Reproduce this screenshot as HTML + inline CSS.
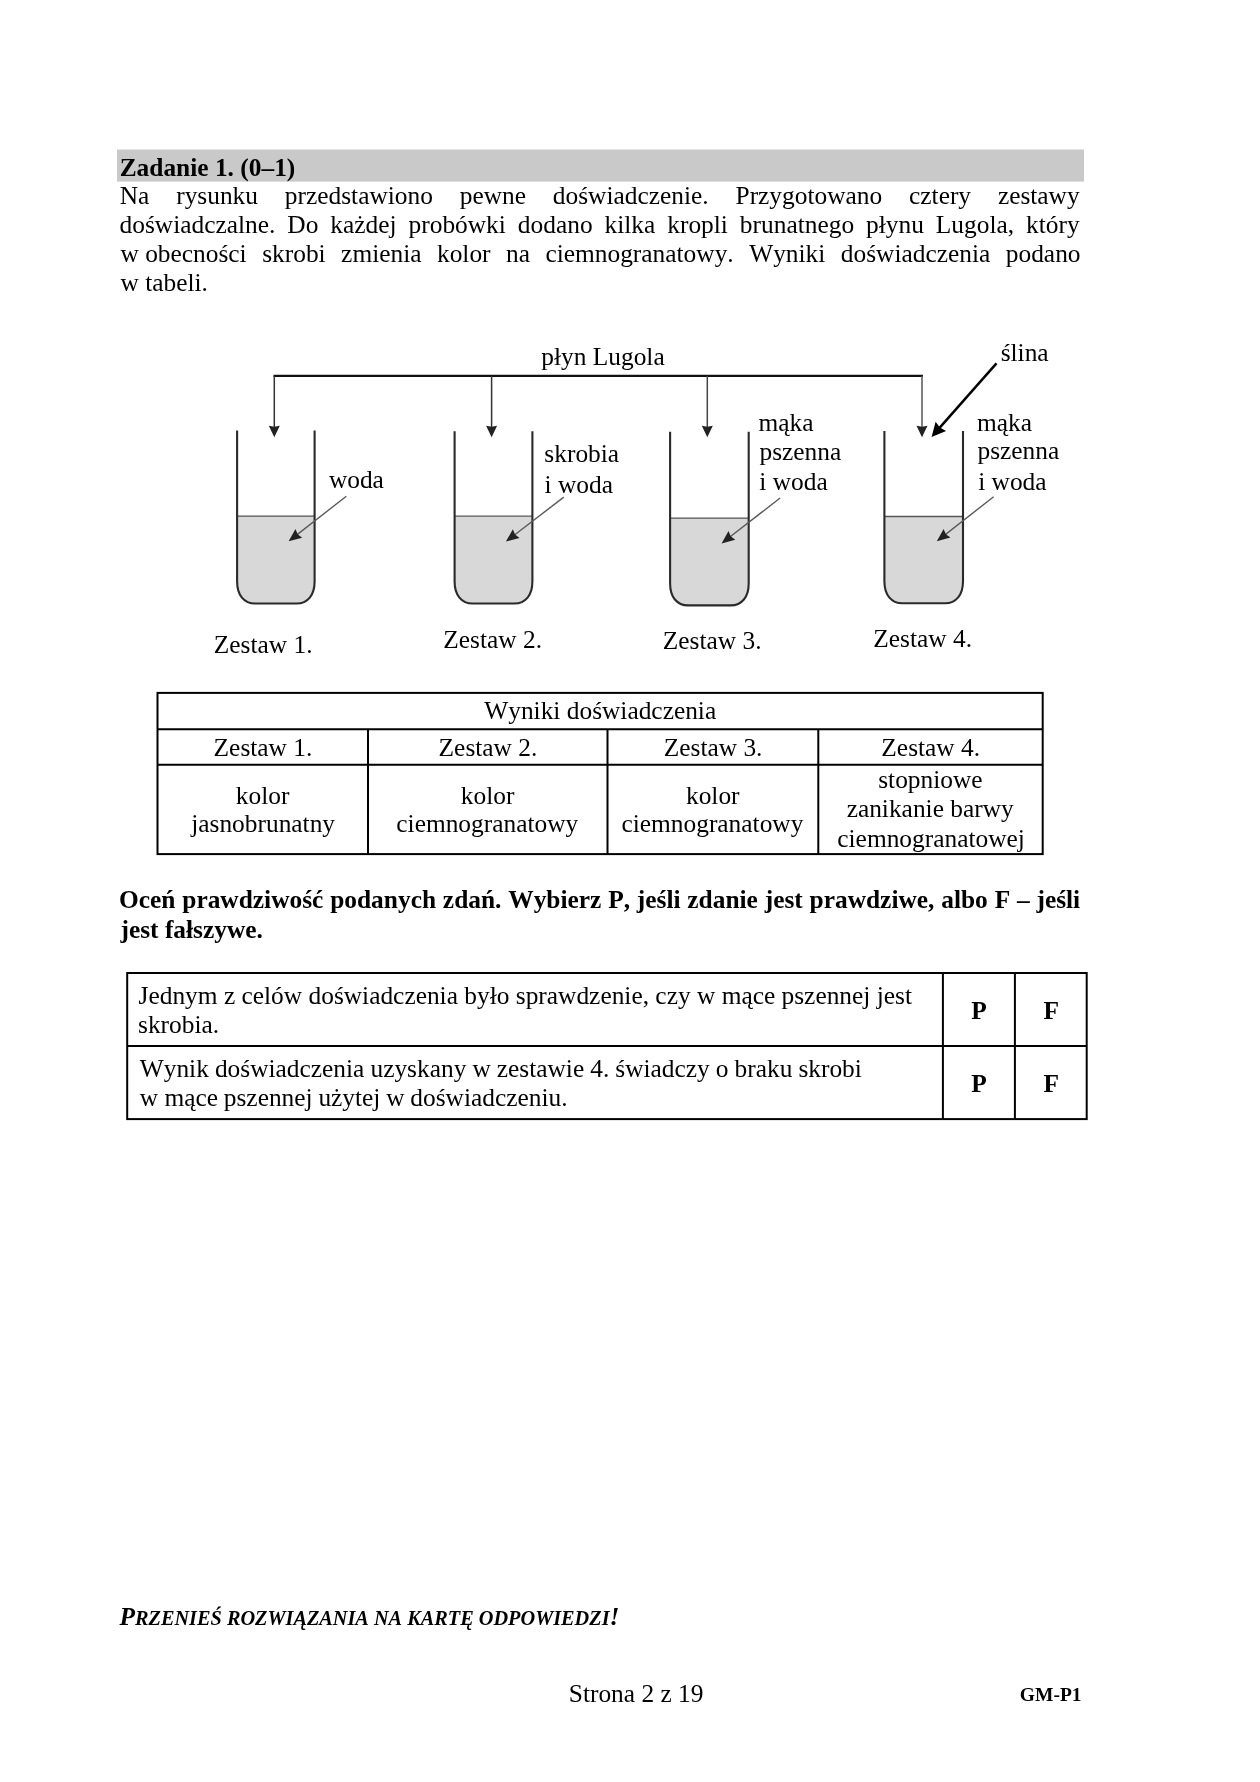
<!DOCTYPE html>
<html><head><meta charset="utf-8"><style>
html,body{margin:0;padding:0;background:#fff;width:1260px;height:1782px;overflow:hidden}
svg{display:block;will-change:transform}
text{font-family:"Liberation Serif",serif;font-kerning:none;font-variant-ligatures:none;white-space:pre;fill:#000}
</style></head><body>
<svg width="1260" height="1782" viewBox="0 0 1260 1782">
<rect x="117" y="149.5" width="967" height="32.1" fill="#c9c9c9"/>
<text x="119.68" y="176.00" font-size="25.4" font-weight="bold">Zadanie 1. (0–1)</text>
<text y="203.80" font-size="25.4" font-weight="normal"><tspan x="119.77">Na</tspan><tspan x="176.19">rysunku</tspan><tspan x="284.84">przedstawiono</tspan><tspan x="459.76">pewne</tspan><tspan x="552.85">doświadczenie.</tspan><tspan x="735.52">Przygotowano</tspan><tspan x="909.05">cztery</tspan><tspan x="997.89">zestawy</tspan></text>
<text y="233.30" font-size="25.4" font-weight="normal"><tspan x="119.58">doświadczalne.</tspan><tspan x="287.37">Do</tspan><tspan x="330.35">każdej</tspan><tspan x="408.56">probówki</tspan><tspan x="517.85">dodano</tspan><tspan x="604.55">kilka</tspan><tspan x="667.27">kropli</tspan><tspan x="739.87">brunatnego</tspan><tspan x="866.07">płynu</tspan><tspan x="935.86">Lugola,</tspan><tspan x="1026.08">który</tspan></text>
<text y="261.80" font-size="25.4" font-weight="normal"><tspan x="120.48">w obecności</tspan><tspan x="262.18">skrobi</tspan><tspan x="341.12">zmienia</tspan><tspan x="436.96">kolor</tspan><tspan x="506.02">na</tspan><tspan x="545.44">ciemnogranatowy.</tspan><tspan x="749.20">Wyniki</tspan><tspan x="840.84">doświadczenia</tspan><tspan x="1005.79">podano</tspan></text>
<text x="120.48" y="291.10" font-size="25.4" font-weight="normal">w tabeli.</text>
<path d="M273.5 375.8 H923" stroke="#111" stroke-width="2.2" fill="none"/>
<path d="M274.3 375.8 V430" stroke="#333" stroke-width="1.5" fill="none"/>
<path d="M274.30 437.20 L268.80 425.70 L274.30 426.70 L279.80 425.70 Z" fill="#222"/>
<path d="M491.6 375.8 V430" stroke="#333" stroke-width="1.5" fill="none"/>
<path d="M491.60 437.20 L486.10 425.70 L491.60 426.70 L497.10 425.70 Z" fill="#222"/>
<path d="M707.3 375.8 V430" stroke="#444" stroke-width="1.5" fill="none"/>
<path d="M707.30 437.20 L701.80 425.70 L707.30 426.70 L712.80 425.70 Z" fill="#222"/>
<path d="M922 375.8 V430" stroke="#555" stroke-width="1.5" fill="none"/>
<path d="M922.00 437.20 L916.50 425.70 L922.00 426.70 L927.50 425.70 Z" fill="#222"/>
<path d="M237.1 516.1 V581.5 C237.1 595.14 243.94 603.5 255.1 603.5 H296.6 C307.76 603.5 314.6 595.14 314.6 581.5 V516.1 Z" fill="#d8d8d8"/>
<path d="M237.1 516.1 H314.6" stroke="#555" stroke-width="1.3" fill="none"/>
<path d="M237.1 430.4 V581.5 C237.1 595.14 243.94 603.5 255.1 603.5 H296.6 C307.76 603.5 314.6 595.14 314.6 581.5 V430.4" stroke="#2a2a2a" stroke-width="2.1" fill="none"/>
<path d="M454.6 516.2 V581.5 C454.6 595.14 461.44 603.5 472.6 603.5 H514.4 C525.56 603.5 532.4 595.14 532.4 581.5 V516.2 Z" fill="#d8d8d8"/>
<path d="M454.6 516.2 H532.4" stroke="#555" stroke-width="1.3" fill="none"/>
<path d="M454.6 431.3 V581.5 C454.6 595.14 461.44 603.5 472.6 603.5 H514.4 C525.56 603.5 532.4 595.14 532.4 581.5 V431.3" stroke="#2a2a2a" stroke-width="2.1" fill="none"/>
<path d="M670.1 518.1 V583.4 C670.1 597.04 676.94 605.4 688.1 605.4 H730.7 C741.86 605.4 748.7 597.04 748.7 583.4 V518.1 Z" fill="#d8d8d8"/>
<path d="M670.1 518.1 H748.7" stroke="#555" stroke-width="1.3" fill="none"/>
<path d="M670.1 431.7 V583.4 C670.1 597.04 676.94 605.4 688.1 605.4 H730.7 C741.86 605.4 748.7 597.04 748.7 583.4 V431.7" stroke="#2a2a2a" stroke-width="2.1" fill="none"/>
<path d="M884.4 516.5 V581.3 C884.4 594.94 891.24 603.3 902.4 603.3 H945 C956.16 603.3 963 594.94 963 581.3 V516.5 Z" fill="#d8d8d8"/>
<path d="M884.4 516.5 H963" stroke="#555" stroke-width="1.3" fill="none"/>
<path d="M884.4 430.9 V581.3 C884.4 594.94 891.24 603.3 902.4 603.3 H945 C956.16 603.3 963 594.94 963 581.3 V430.9" stroke="#2a2a2a" stroke-width="2.1" fill="none"/>
<path d="M346.3 496.2 L296.48 535.14" stroke="#5a5a5a" stroke-width="1.4" fill="none"/>
<path d="M288.60 541.30 L295.46 528.96 L297.66 534.22 L302.23 537.63 Z" fill="#222"/>
<path d="M563.8 497.1 L513.83 535.51" stroke="#5a5a5a" stroke-width="1.4" fill="none"/>
<path d="M505.90 541.60 L512.86 529.32 L515.02 534.59 L519.56 538.04 Z" fill="#222"/>
<path d="M780.1 498 L729.50 537.27" stroke="#5a5a5a" stroke-width="1.4" fill="none"/>
<path d="M721.60 543.40 L728.50 531.08 L730.69 536.35 L735.24 539.77 Z" fill="#222"/>
<path d="M993.6 496.8 L944.67 535.13" stroke="#5a5a5a" stroke-width="1.4" fill="none"/>
<path d="M936.80 541.30 L943.64 528.95 L945.85 534.21 L950.43 537.61 Z" fill="#222"/>
<path d="M996.5 363.3 L938.21 429.40" stroke="#000" stroke-width="2.5" fill="none"/>
<path d="M931.60 436.90 L935.61 421.77 L939.87 427.52 L946.11 431.03 Z" fill="#000"/>
<text x="541.29" y="365.00" font-size="25.4" font-weight="normal">płyn Lugola</text>
<text x="1000.66" y="360.70" font-size="25.4" font-weight="normal">ślina</text>
<text x="328.88" y="488.40" font-size="25.4" font-weight="normal">woda</text>
<text x="544.36" y="462.00" font-size="25.4" font-weight="normal">skrobia</text>
<text x="544.57" y="492.70" font-size="25.4" font-weight="normal">i woda</text>
<text x="758.57" y="430.80" font-size="25.4" font-weight="normal">mąka</text>
<text x="759.49" y="459.80" font-size="25.4" font-weight="normal">pszenna</text>
<text x="759.37" y="490.30" font-size="25.4" font-weight="normal">i woda</text>
<text x="976.97" y="430.60" font-size="25.4" font-weight="normal">mąka</text>
<text x="977.49" y="459.40" font-size="25.4" font-weight="normal">pszenna</text>
<text x="978.17" y="490.30" font-size="25.4" font-weight="normal">i woda</text>
<text x="213.78" y="652.80" font-size="25.4" font-weight="normal">Zestaw 1.</text>
<text x="443.28" y="647.60" font-size="25.4" font-weight="normal">Zestaw 2.</text>
<text x="662.78" y="648.60" font-size="25.4" font-weight="normal">Zestaw 3.</text>
<text x="873.28" y="646.70" font-size="25.4" font-weight="normal">Zestaw 4.</text>
<rect x="157.5" y="692.9" width="885.2" height="161.2" fill="none" stroke="#000" stroke-width="2"/>
<path d="M157.5 729.3 H1042.7 M157.5 764.7 H1042.7 M368 729.3 V854.1 M607.5 729.3 V854.1 M818.3 729.3 V854.1" stroke="#000" stroke-width="2" fill="none"/>
<text x="484.24" y="718.50" font-size="25.4" font-weight="normal">Wyniki doświadczenia</text>
<text x="213.61" y="755.80" font-size="25.4" font-weight="normal">Zestaw 1.</text>
<text x="438.61" y="755.80" font-size="25.4" font-weight="normal">Zestaw 2.</text>
<text x="663.76" y="755.80" font-size="25.4" font-weight="normal">Zestaw 3.</text>
<text x="881.36" y="755.80" font-size="25.4" font-weight="normal">Zestaw 4.</text>
<text x="235.81" y="803.50" font-size="25.4" font-weight="normal">kolor</text>
<text x="191.21" y="831.80" font-size="25.4" font-weight="normal">jasnobrunatny</text>
<text x="460.81" y="803.50" font-size="25.4" font-weight="normal">kolor</text>
<text x="396.33" y="831.80" font-size="25.4" font-weight="normal">ciemnogranatowy</text>
<text x="685.96" y="803.50" font-size="25.4" font-weight="normal">kolor</text>
<text x="621.48" y="831.80" font-size="25.4" font-weight="normal">ciemnogranatowy</text>
<text x="878.21" y="787.90" font-size="25.4" font-weight="normal">stopniowe</text>
<text x="846.64" y="817.30" font-size="25.4" font-weight="normal">zanikanie barwy</text>
<text x="837.31" y="846.60" font-size="25.4" font-weight="normal">ciemnogranatowej</text>
<text y="908.30" font-size="25.4" font-weight="bold"><tspan x="119.06">Oceń</tspan><tspan x="182.29">prawdziwość</tspan><tspan x="330.19">podanych</tspan><tspan x="442.87">zdań.</tspan><tspan x="508.25">Wybierz</tspan><tspan x="608.15">P,</tspan><tspan x="636.82">jeśli</tspan><tspan x="687.35">zdanie</tspan><tspan x="764.70">jest</tspan><tspan x="809.58">prawdziwe,</tspan><tspan x="941.24">albo</tspan><tspan x="994.63">F</tspan><tspan x="1016.94">–</tspan><tspan x="1036.44">jeśli</tspan></text>
<text x="120.51" y="938.00" font-size="25.4" font-weight="bold">jest fałszywe.</text>
<rect x="127.2" y="973" width="959.5" height="146.1" fill="none" stroke="#000" stroke-width="2"/>
<path d="M127.2 1046.1 H1086.7 M942.9 973 V1119.1 M1014.9 973 V1119.1" stroke="#000" stroke-width="2" fill="none"/>
<text x="138.57" y="1003.70" font-size="25.4" font-weight="normal">Jednym z celów doświadczenia było sprawdzenie, czy w mące pszennej jest</text>
<text x="138.06" y="1032.80" font-size="25.4" font-weight="normal">skrobia.</text>
<text y="1076.70" font-size="25.4" font-weight="normal"><tspan x="139.78">Wynik</tspan><tspan x="214.92">doświadczenia</tspan><tspan x="370.45">uzyskany</tspan><tspan x="472.40">w</tspan><tspan x="496.77">zestawie</tspan><tspan x="590.22">4.</tspan><tspan x="615.29">świadczy</tspan><tspan x="715.81">o</tspan><tspan x="734.53">braku</tspan><tspan x="798.38">skrobi</tspan></text>
<text y="1105.60" font-size="25.4" font-weight="normal"><tspan x="139.78">w mące</tspan><tspan x="223.79">pszennej</tspan><tspan x="318.40">użytej</tspan><tspan x="386.20">w</tspan><tspan x="410.29">doświadczeniu.</tspan></text>
<text x="971.28" y="1018.70" font-size="25.4" font-weight="bold">P</text>
<text x="1043.43" y="1018.70" font-size="25.4" font-weight="bold">F</text>
<text x="971.28" y="1091.70" font-size="25.4" font-weight="bold">P</text>
<text x="1043.43" y="1091.70" font-size="25.4" font-weight="bold">F</text>
<text x="568.80" y="1701.60" font-size="25.4" font-weight="normal">Strona 2 z 19</text>
<text x="1019.85" y="1700.80" font-size="19.5" font-weight="bold">GM-P1</text>
<text x="119.5" y="1625" font-weight="bold" font-style="italic"><tspan font-size="25.40">P</tspan><tspan font-size="20.30">RZENIEŚ</tspan><tspan font-size="20.30"> </tspan><tspan font-size="20.30">ROZWIĄZANIA</tspan><tspan font-size="20.30"> </tspan><tspan font-size="20.30">NA</tspan><tspan font-size="20.30"> </tspan><tspan font-size="20.30">KARTĘ</tspan><tspan font-size="20.30"> </tspan><tspan font-size="20.30">ODPOWIEDZI</tspan><tspan font-size="25.40">!</tspan></text>
</svg></body></html>
